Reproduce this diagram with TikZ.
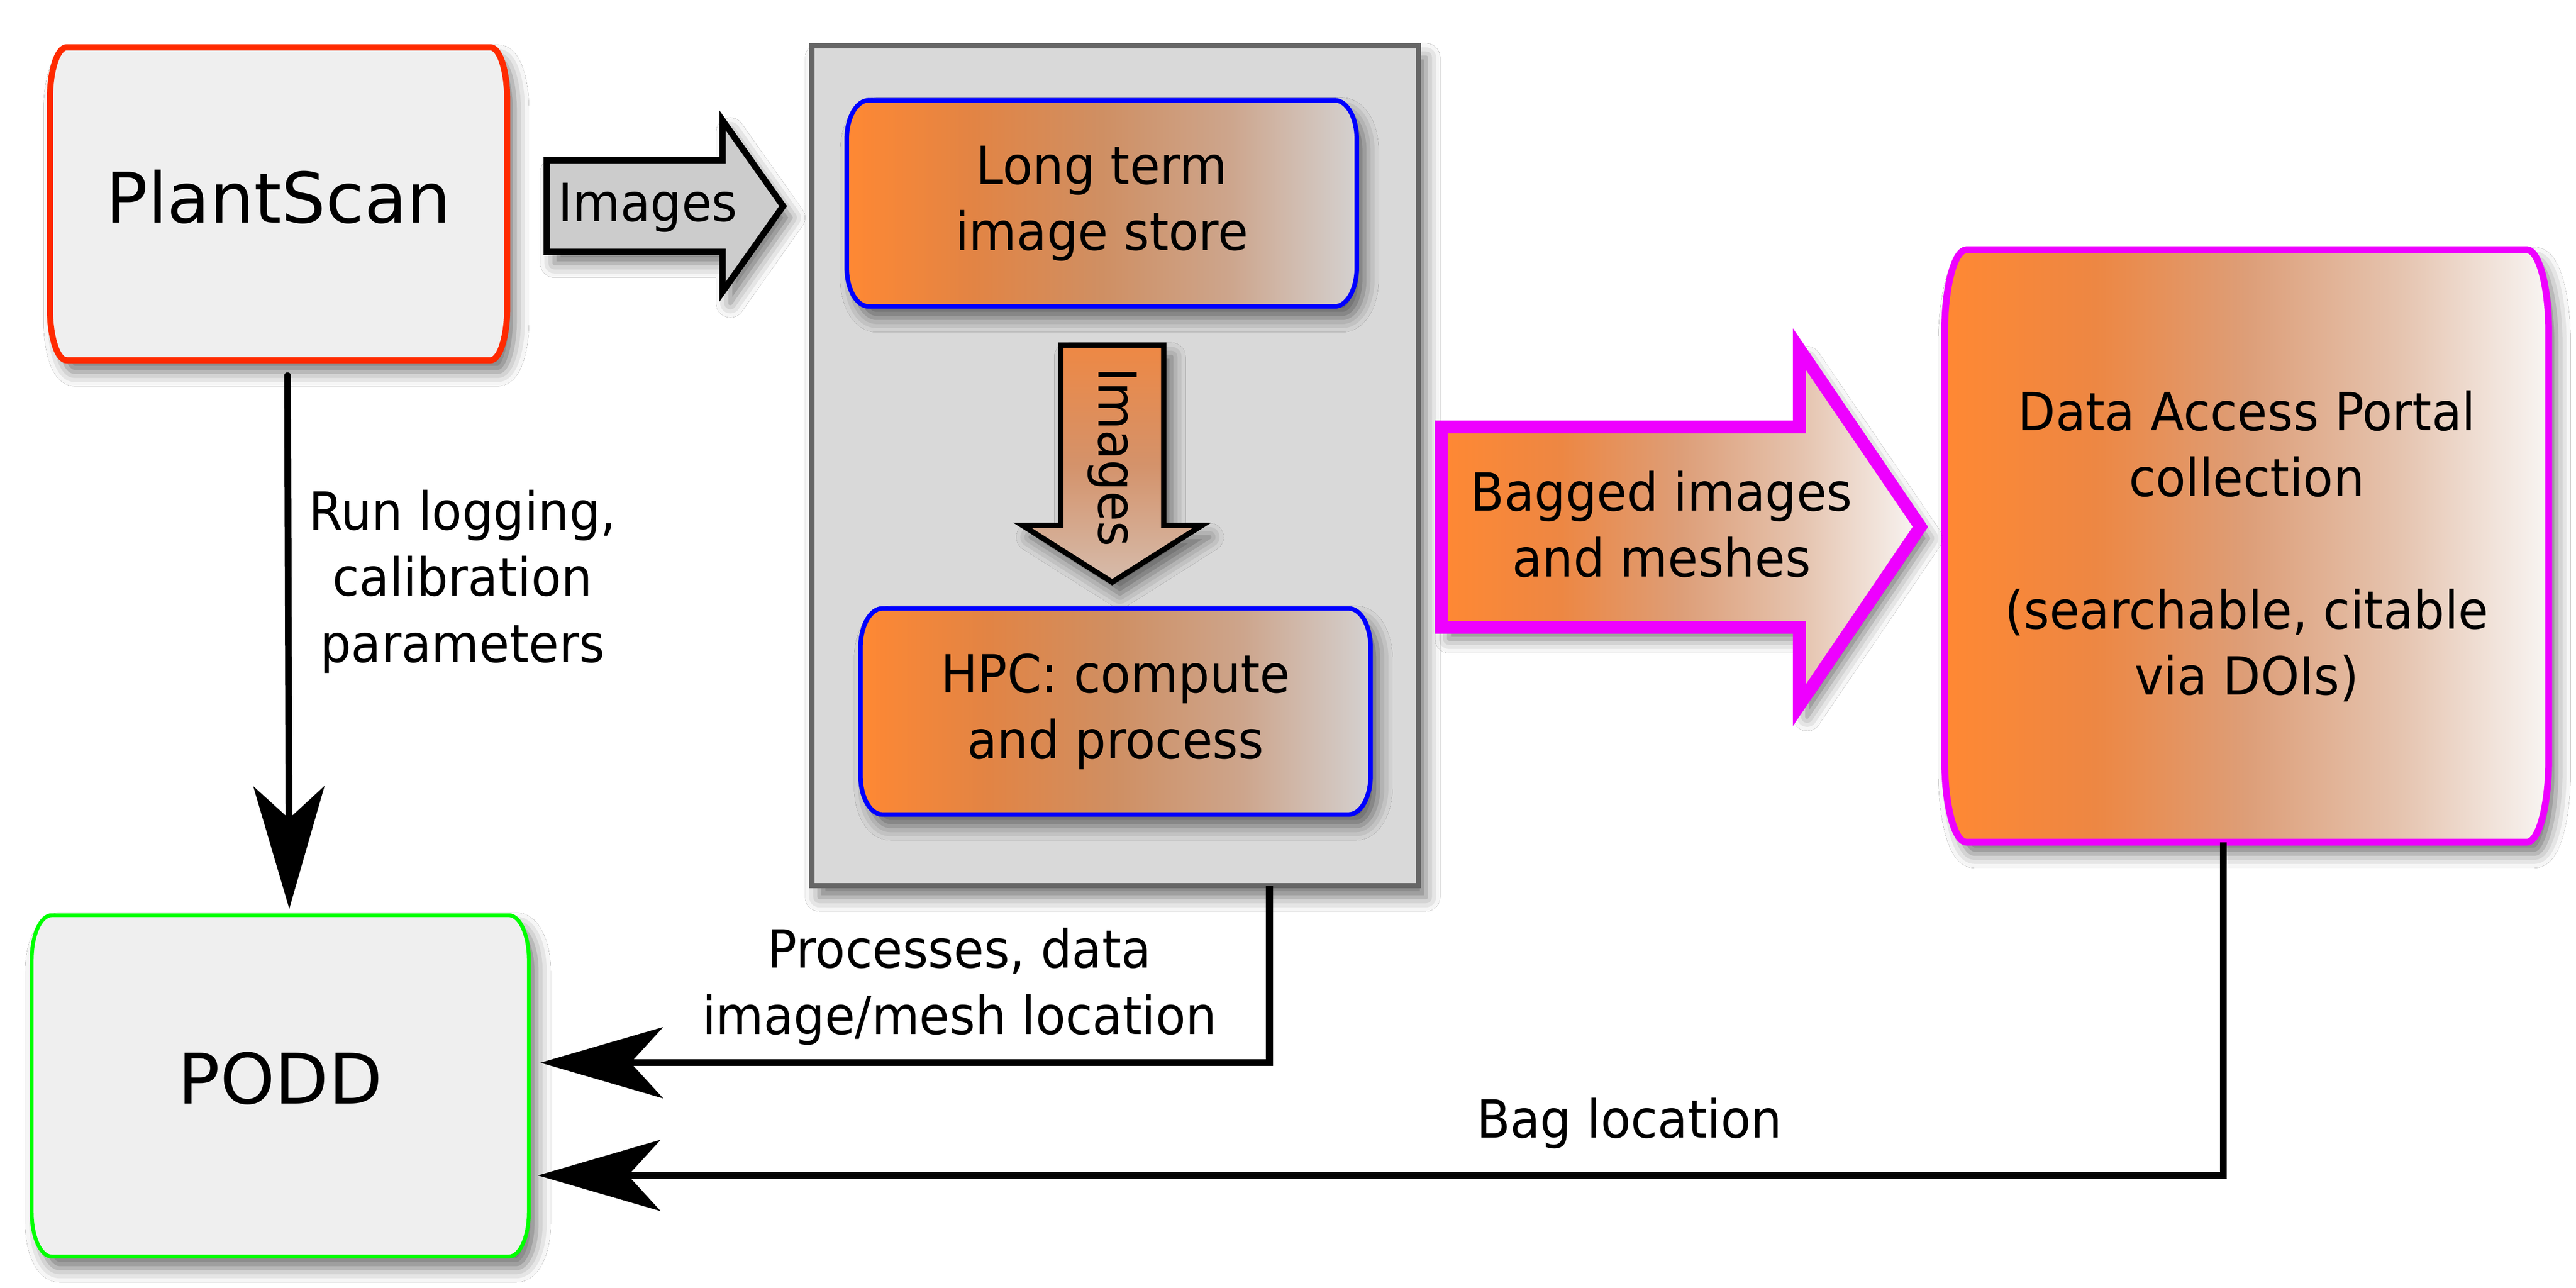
\documentclass[tikz,border=0pt]{standalone}
\usepackage{fontspec}
\setmainfont{DejaVu Sans}[FakeStretch=0.935]
\newfontfamily\bigfont{DejaVu Sans}
\usetikzlibrary{positioning,arrows.meta,shadows.blur}

\definecolor{psred}{HTML}{FF2A00}
\definecolor{poddgreen}{HTML}{00FF00}
\definecolor{storeblue}{HTML}{0000FF}
\definecolor{dapmagenta}{HTML}{EE00FF}
\definecolor{boxgray}{HTML}{EFEFEF}
\definecolor{areagray}{HTML}{D9D9D9}
\definecolor{areaedge}{HTML}{666666}
\definecolor{arrowgray}{HTML}{CCCCCC}
\definecolor{startorange}{HTML}{FF8833}

% orange fading to the background, left to right / top to bottom
\pgfdeclarehorizontalshading{storefade}{100bp}{color(0bp)=(startorange); color(25bp)=(startorange);
  color(37.5bp)=(rgb,255:red,226;green,132;blue,68); color(50bp)=(rgb,255:red,207;green,143;blue,99);
  color(62.5bp)=(rgb,255:red,205;green,165;blue,140); color(75bp)=(rgb,255:red,212;green,209;blue,208);
  color(100bp)=(rgb,255:red,212;green,209;blue,208)}
\pgfdeclarehorizontalshading{dapfade}{100bp}{color(0bp)=(startorange); color(25bp)=(startorange);
  color(37.5bp)=(rgb,255:red,237;green,135;blue,67); color(50bp)=(rgb,255:red,221;green,158;blue,120);
  color(62.5bp)=(rgb,255:red,229;green,195;blue,174); color(75bp)=(rgb,255:red,248;green,245;blue,243);
  color(100bp)=(rgb,255:red,248;green,245;blue,243)}
\pgfdeclareverticalshading{downfade}{100bp}{color(0bp)=(rgb,255:red,214;green,188;blue,172);
  color(25bp)=(rgb,255:red,214;green,188;blue,172); color(50bp)=(rgb,255:red,212;green,146;blue,106);
  color(75bp)=(rgb,255:red,238;green,136;blue,68); color(100bp)=(rgb,255:red,238;green,136;blue,68)}

\pgfdeclarelayer{bg}
\pgfsetlayers{bg,main}

% frame with elliptical corners round a node
\newcommand{\ellframe}[4]{%
  \path[#2] ([xshift=#3]#1.north west) -- ([xshift=-#3]#1.north east)
    arc[start angle=90, end angle=0, x radius=#3, y radius=#4]
    -- ([yshift=#4]#1.south east)
    arc[start angle=0, end angle=-90, x radius=#3, y radius=#4]
    -- ([xshift=#3]#1.south west)
    arc[start angle=270, end angle=180, x radius=#3, y radius=#4]
    -- ([yshift=-#4]#1.north west)
    arc[start angle=180, end angle=90, x radius=#3, y radius=#4] -- cycle;}

\tikzset{
  box/.style={inner sep=0pt, outer sep=0pt, align=center, font=\fontsize{11.6}{14.6}\selectfont},
  bigbox/.style={box, text depth=0.12cm, font=\bigfont\fontsize{15.4}{18}\selectfont},
  lbl/.style={align=center, inner sep=0pt, font=\fontsize{11.6}{14.6}\selectfont},
  boxshadow/.style={blur shadow={shadow xshift=0.06cm, shadow yshift=-0.09cm, shadow blur radius=0.11cm, shadow opacity=55}},
  conn/.style={line width=1.5pt, draw=black, -{Stealth[length=0.95cm, width=0.55cm, inset=0.25cm, fill=black]}},
}

\begin{document}
\begin{tikzpicture}
\useasboundingbox (0,0) rectangle (20,-10);

\node[bigbox, minimum width=3.55cm, minimum height=2.43cm] (ps) at (2.1625,-1.5825) {PlantScan};
\node[bigbox, minimum width=3.86cm, minimum height=2.65cm] (podd) at (2.176,-8.431) {PODD};
\node[box, minimum width=4.71cm, minimum height=6.52cm] (hpcarea) at (8.656,-3.616) {};
\node[box, minimum width=3.96cm, minimum height=1.6cm] (store) at (8.554,-1.579) {Long term\\image store};
\node[box, minimum width=3.96cm, minimum height=1.6cm] (hpc) at (8.661,-5.524) {HPC: compute\\and process};
\node[box, minimum width=4.69cm, minimum height=4.6cm] (dap) at (17.443,-4.239)
  {Data Access Portal\\collection\\[14.6pt](searchable, citable\\via DOIs)};

\begin{pgfonlayer}{bg}
\fill[white] (0,0) rectangle (20,-10);
\draw[draw=areaedge, fill=areagray, line width=1.2pt, boxshadow]
  (hpcarea.north west) rectangle (hpcarea.south east);
\ellframe{store}{draw=storeblue, line width=1pt, shading=storefade, boxshadow}{0.17cm}{0.3cm}
\ellframe{hpc}{draw=storeblue, line width=1pt, shading=storefade, boxshadow}{0.17cm}{0.3cm}
\ellframe{ps}{draw=psred, line width=1.35pt, fill=boxgray, boxshadow}{0.13cm}{0.4cm}
\ellframe{podd}{draw=poddgreen, line width=0.85pt, fill=boxgray, boxshadow}{0.155cm}{0.345cm}
\ellframe{dap}{draw=dapmagenta, line width=1.5pt, shading=dapfade, boxshadow}{0.17cm}{0.64cm}

% block arrows
\draw[line width=1.4pt, fill=arrowgray, boxshadow] (4.245,-1.245) -- (5.61,-1.245) -- (5.61,-0.935)
  -- (6.08,-1.6) -- (5.61,-2.265) -- (5.61,-1.955) -- (4.245,-1.955) -- cycle;
\draw[line width=1.2pt, shading=downfade, boxshadow]
  (8.235,-2.68) -- (9.035,-2.68) -- (9.035,-4.08) -- (9.33,-4.08) -- (8.635,-4.52)
  -- (7.94,-4.08) -- (8.235,-4.08) -- cycle;
\draw[draw=dapmagenta, line width=2.8pt, shading=dapfade, boxshadow]
  (11.19,-3.315) -- (13.97,-3.315) -- (13.97,-2.71) -- (14.91,-4.09) -- (13.97,-5.475)
  -- (13.97,-4.87) -- (11.19,-4.87) -- cycle;
\end{pgfonlayer}

\node[lbl] (imgs) at (5.03,-1.61) {Images};
\node[lbl, rotate=-90] (imgsdown) at (8.635,-3.55) {Images};
\node[lbl] (bagged) at (12.9,-4.07) {Bagged images\\and meshes};

\node[lbl] (runlog) at (3.59,-4.515) {Run logging,\\calibration\\parameters};
\node[lbl] (procs) at (7.45,-7.66) {Processes, data\\image/mesh location};
\node[lbl] (bagloc) at (12.65,-8.72) {Bag location};

\draw[conn, line cap=round] ([xshift=0.07cm, yshift=-0.12cm]ps.south) -- ([xshift=0.07cm, yshift=0.05cm]podd.north);
\draw[conn] ([xshift=1.2cm]hpcarea.south) |- ([xshift=0.09cm, yshift=0.18cm]podd.east);
\draw[conn] ([xshift=-0.18cm]dap.south) |- ([xshift=0.07cm, yshift=-0.695cm]podd.east);

\end{tikzpicture}
\end{document}
